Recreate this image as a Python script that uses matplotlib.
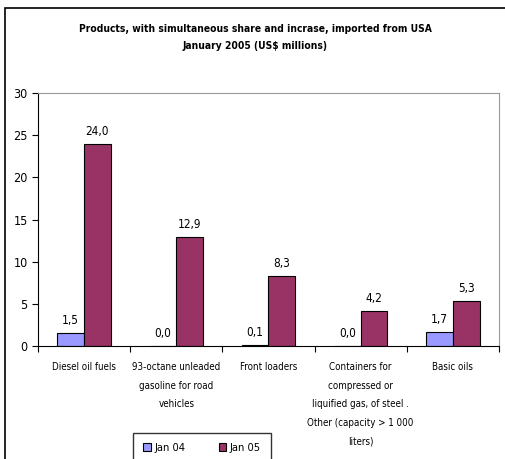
import matplotlib.pyplot as plt
import numpy as np
from matplotlib.patches import Rectangle

categories = ['Diesel oil fuels', '93-octane unleaded\ngasoline for road\nvehicles',
              'Front loaders', 'Containers for\ncompressed or\nliquified gas, of steel .\nOther (capacity > 1 000\nliters)',
              'Basic oils']
jan04 = [1.5, 0.0, 0.1, 0.0, 1.7]
jan05 = [24.0, 12.9, 8.3, 4.2, 5.3]

plt.rcParams['font.family'] = ['DejaVu Sans']
plt.rcParams['font.stretch'] = 'condensed'

fig = plt.figure(figsize=(5.05, 4.59), dpi=100)
ax = fig.add_axes([0.0752, 0.2462, 0.9128, 0.5508])

x = np.arange(len(categories))
w = 0.29
b1 = ax.bar(x - w / 2, jan04, w, color='#9999FF', edgecolor='black', linewidth=0.8, label='Jan 04')
b2 = ax.bar(x + w / 2, jan05, w, color='#993366', edgecolor='black', linewidth=0.8, label='Jan 05')

for rects, vals in [(b1, jan04), (b2, jan05)]:
    for r, v in zip(rects, vals):
        ax.text(r.get_x() + r.get_width() / 2, v + 0.7, f'{v:.1f}'.replace('.', ','),
                ha='center', va='bottom', fontsize=8.5)

ax.set_xlim(-0.5, len(categories) - 0.5)
ax.set_ylim(0, 30)
ax.set_yticks(range(0, 31, 5))
ax.set_xticks(np.arange(-0.5, len(categories), 1), minor=False)
ax.set_xticklabels([])
ax.tick_params(axis='x', length=4, direction='out')
ax.tick_params(axis='y', labelsize=9, length=4)
for i, c in enumerate(categories):
    ax.text(i, -1.95, c, ha='center', va='top', fontsize=7, linespacing=2.05)

ax.spines['top'].set_color('#999999')
ax.spines['right'].set_color('#999999')

fig.text(0.505, 0.948, 'Products, with simultaneous share and incrase, imported from USA\nJanuary 2005 (US$ millions)',
         ha='center', va='top', fontsize=7.4, fontweight='bold', linespacing=1.95)

fig.legend(loc='upper center', bbox_to_anchor=(0.4, 1 - 433 / 459), ncol=2, fontsize=8,
           frameon=True, fancybox=False, edgecolor='black', handlelength=0.7, handleheight=0.7,
           columnspacing=3.0, handletextpad=0.3, borderpad=0.9, borderaxespad=0)

fig.patches.append(Rectangle((5 / 505, -0.1), 1.2, 0.1 + 1 - 8 / 459, transform=fig.transFigure,
                             fill=False, edgecolor='black', linewidth=1.2))

plt.savefig('out.png', dpi=100)
